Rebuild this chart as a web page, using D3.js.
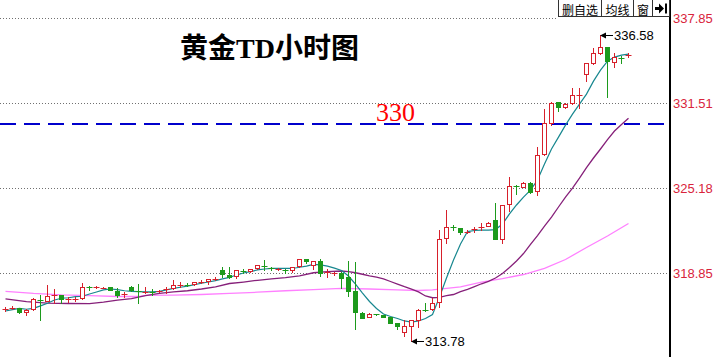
<!DOCTYPE html>
<html>
<head>
<meta charset="utf-8">
<script src="https://cdn.jsdelivr.net/npm/d3@7"></script>
<style>
  html, body { margin: 0; padding: 0; background: #fff; }
  svg { display: block; }
</style>
</head>
<body>
<svg id="chart" width="714" height="357"></svg>
<script>
// hourly candles, oldest first
const opens = [316.16,316.23,316.24,315.97,316.17,316.88,316.81,317.21,317.23,316.94,
  316.90,316.99,317.82,317.79,317.76,317.81,317.55,317.29,317.83,317.57,
  317.47,317.50,317.50,317.64,317.72,317.99,318.01,318.02,318.17,318.22,
  318.43,319.10,318.72,318.60,319.06,318.97,319.21,319.41,319.23,319.14,
  319.10,319.10,319.34,319.89,319.47,319.73,318.90,318.84,318.89,318.54,
  317.53,315.92,315.62,315.80,315.75,315.62,315.13,314.48,314.96,315.37,
  316.10,316.14,316.66,321.44,322.34,322.20,321.94,322.15,322.30,322.37,
  322.82,321.44,323.99,325.37,325.30,325.60,325.00,327.71,330.06,331.61,
  331.26,331.51,332.11,333.69,334.49,335.23,335.68,334.61,334.87,335.09];
const highs = [316.36,316.42,316.30,316.16,316.99,317.23,317.98,317.66,317.27,317.11,
  317.09,318.11,317.90,317.87,317.83,317.83,317.73,317.48,317.90,318.05,
  317.81,317.66,317.61,317.81,318.35,318.18,318.11,318.20,318.35,318.43,
  318.60,319.30,319.30,319.10,319.15,319.17,319.47,319.84,319.30,319.21,
  319.15,319.32,319.92,319.92,319.80,319.89,319.15,318.95,318.91,319.77,
  319.69,315.93,315.86,315.84,315.77,315.63,315.15,315.34,315.39,316.16,
  316.62,317.01,322.07,323.53,322.45,322.22,322.04,322.32,322.62,322.69,
  324.11,323.97,326.00,325.42,325.63,325.67,328.28,331.06,331.58,331.63,
  331.53,332.63,332.63,334.51,335.60,336.58,335.70,335.23,335.03,335.23];
const lows = [316.04,316.16,315.89,315.75,316.13,315.37,316.79,316.62,316.66,316.74,
  316.79,316.91,317.61,317.73,317.72,317.57,317.11,317.11,317.55,316.66,
  317.41,317.23,317.42,317.36,317.66,317.85,317.93,317.98,318.11,318.03,
  318.35,318.57,318.50,318.48,318.89,318.95,319.15,319.10,319.13,319.10,
  318.89,318.97,319.32,319.60,319.15,318.63,318.61,318.76,317.78,317.16,
  314.67,315.52,315.60,315.75,315.60,315.11,314.67,314.18,313.78,314.85,
  316.01,316.12,316.36,321.13,322.04,321.81,321.89,321.95,322.07,322.34,
  321.37,321.13,323.47,324.75,325.28,324.81,324.68,327.66,329.89,330.96,
  331.16,331.48,331.14,333.19,334.46,335.20,332.00,334.23,334.49,334.98];
const closes = [316.19,316.25,315.93,316.12,316.91,316.82,317.16,317.23,316.91,316.96,
  316.92,317.81,317.79,317.82,317.78,317.61,317.26,317.32,317.61,317.54,
  317.49,317.47,317.52,317.67,317.98,318.01,317.99,318.19,318.19,318.40,
  318.45,318.78,318.60,319.07,319.02,319.15,319.45,319.34,319.21,319.16,
  319.08,319.30,319.89,319.71,319.79,318.85,318.92,318.86,318.54,317.47,
  315.93,315.56,315.82,315.78,315.62,315.15,314.94,314.93,315.37,316.12,
  316.07,316.62,321.38,322.28,322.30,321.90,321.96,322.17,322.32,322.57,
  321.44,323.94,325.35,325.34,325.60,324.93,327.66,330.02,331.55,331.21,
  331.46,332.13,332.13,334.49,335.23,335.68,334.61,334.96,334.84,335.11];

// moving average lines
const ma5 = [316.04,316.14,316.24,316.17,316.24,316.42,316.62,316.86,316.99,317.03,
  317.11,317.14,317.31,317.46,317.61,317.68,317.63,317.55,317.51,317.48,
  317.46,317.46,317.51,317.61,317.73,317.81,317.90,318.00,318.11,318.20,
  318.30,318.43,318.55,318.72,318.87,318.98,319.10,319.17,319.21,319.22,
  319.21,319.21,319.30,319.39,319.51,319.48,319.39,319.24,319.06,318.65,
  318.05,317.38,316.75,316.23,315.82,315.63,315.48,315.30,315.22,315.30,
  315.48,315.78,317.09,318.50,319.84,321.03,321.96,322.04,322.07,322.07,
  322.11,322.52,323.27,323.94,324.53,325.05,325.80,326.99,328.11,329.00,
  329.89,330.71,331.46,332.20,333.17,333.99,334.66,334.96,335.11,335.18];
const ma20Idx = [0,3,6,9,12,14,16,18,20,22,24,26,28,30,32,34,36,38,40,42,44,46,48,
  49,50,51,52,53,54,55,56,57,58,59,60,61,62,63,64,65,66,67,68,69,70,71,72,73,74,
  75,76,77,78,79,80,81,82,83,84,85,86,87,88,89];
const ma20 = [316.94,316.74,316.63,316.60,316.59,316.70,316.85,316.97,317.18,317.35,
  317.46,317.55,317.68,317.84,318.09,318.20,318.33,318.44,318.53,318.66,318.89,318.98,319.02,
  318.98,318.89,318.78,318.66,318.56,318.43,318.24,318.05,317.85,317.67,317.46,317.16,
  317.03,317.05,317.18,317.27,317.48,317.66,317.86,318.07,318.25,318.50,318.84,319.28,
  319.77,320.32,321.00,321.66,322.37,323.04,323.79,324.53,325.20,325.95,326.73,327.44,
  328.11,328.81,329.45,329.93,330.41];
const ma60Idx = [0,4,8,12,16,19,20,24,28,32,36,40,44,48,52,56,59,61,63,65,68,71,74,77,80,83,86,89];
const ma60 = [317.51,317.35,317.24,317.18,317.12,317.12,317.20,317.23,317.27,317.35,
  317.44,317.55,317.64,317.72,317.68,317.61,317.57,317.61,317.72,317.84,318.20,318.46,
  318.76,319.21,319.88,320.77,321.63,322.56];

const yTicks = [318.85, 325.18, 331.51, 337.85];
const refLevel = 330;
const buttons = ['删自选', '均线', '窗'];
const title = '黄金TD小时图';

const red = '#d7202b',
    green = '#1c9a1c',
    gridColor = '#707070';

const plotRight = 670;
const svg = d3.select('#chart');

const x = d3.scaleBand().domain(d3.range(95)).range([1.8, 666.8]);
const cx = i => Math.round(x(i) + x.bandwidth() / 2) + 0.5;
const y = d3.scaleLinear().domain([318.85, 337.85]).range([273.3, 18.3]);
const crisp = v => Math.round(v) + 0.5;

// dotted grid
svg.append('g')
    .selectAll('line')
    .data(yTicks)
    .enter()
    .append('line')
    .attr('x1', 0)
    .attr('x2', (d, i) => i === yTicks.length - 1 ? 557 : 668)
    .attr('y1', d => crisp(y(d)))
    .attr('y2', d => crisp(y(d)))
    .attr('stroke', gridColor)
    .attr('stroke-dasharray', '1,2');

// 330 reference line
svg.append('line')
    .attr('x1', 0)
    .attr('x2', 668)
    .attr('y1', Math.round(y(refLevel)))
    .attr('y2', Math.round(y(refLevel)))
    .attr('stroke', '#0000cc')
    .attr('stroke-width', 2)
    .attr('stroke-dasharray', '16,8');

svg.append('text')
    .attr('x', 376)
    .attr('y', 121)
    .attr('fill', '#ff0000')
    .style('font-family', '"Liberation Serif", serif')
    .style('font-size', '26px')
    .text(refLevel);

// title
svg.append('text')
    .attr('x', 180)
    .attr('y', 58)
    .attr('fill', '#000')
    .style('font-family', '"Liberation Serif", "Noto Sans CJK SC", serif')
    .style('font-weight', 'bold')
    .style('font-size', '28px')
    .text(title);

// moving averages
const line = d3.line().x(d => cx(d[0])).y(d => y(d[1]));
const lineSets = [
    {pts: ma60Idx.map((d, i) => [d, ma60[i]]), color: '#ff80ff', w: 1.3},
    {pts: ma20Idx.map((d, i) => [d, ma20[i]]), color: '#86207a', w: 1.3},
    {pts: ma5.map((d, i) => [i, d]), color: '#17878f', w: 1.2}
];
svg.append('g')
    .selectAll('path')
    .data(lineSets)
    .enter()
    .append('path')
    .attr('d', d => line(d.pts))
    .attr('fill', 'none')
    .attr('stroke', d => d.color)
    .attr('stroke-width', d => d.w);

// candles
const candles = d3.range(opens.length).map(i => ({
    i: i, o: opens[i], h: highs[i], l: lows[i], c: closes[i]
}));
const isUp = d => d.c >= d.o;
const cg = svg.append('g');

cg.selectAll('.wick')
    .data(candles)
    .enter()
    .append('line')
    .attr('class', 'wick')
    .attr('x1', d => cx(d.i))
    .attr('x2', d => cx(d.i))
    .attr('y1', d => Math.round(y(d.h)))
    .attr('y2', d => Math.round(y(d.l)) + 1)
    .attr('stroke', d => isUp(d) ? red : green);

const flat = d => Math.abs(y(d.o) - y(d.c)) < 1.5;

cg.selectAll('.doji')
    .data(candles.filter(flat))
    .enter()
    .append('line')
    .attr('class', 'doji')
    .attr('x1', d => cx(d.i) - 3)
    .attr('x2', d => cx(d.i) + 3)
    .attr('y1', d => crisp((y(d.o) + y(d.c)) / 2))
    .attr('y2', d => crisp((y(d.o) + y(d.c)) / 2))
    .attr('stroke', d => isUp(d) ? red : green);

cg.selectAll('.body')
    .data(candles.filter(d => !flat(d)))
    .enter()
    .append('rect')
    .attr('class', 'body')
    .attr('x', d => isUp(d) ? cx(d.i) - 2 : cx(d.i) - 2.5)
    .attr('width', d => isUp(d) ? 4 : 5)
    .attr('y', d => {
        const t = Math.min(y(d.o), y(d.c));
        return isUp(d) ? crisp(t) : Math.round(t);
    })
    .attr('height', d => {
        const hgt = Math.round(Math.abs(y(d.o) - y(d.c)));
        return isUp(d) ? hgt : hgt + 1;
    })
    .attr('fill', d => isUp(d) ? '#fff' : green)
    .attr('stroke', d => isUp(d) ? red : 'none');

// high / low markers
const hiIdx = d3.maxIndex(highs), loIdx = d3.minIndex(lows);
const marks = [
    {i: hiIdx, v: highs[hiIdx]},
    {i: loIdx, v: lows[loIdx]}
];
const mg = svg.append('g')
    .selectAll('g')
    .data(marks)
    .enter()
    .append('g')
    .attr('transform', d => `translate(${cx(d.i) - 0.5},${Math.round(y(d.v)) + 0.5})`);
mg.append('line')
    .attr('x1', 4).attr('x2', 13)
    .attr('stroke', '#000');
mg.append('path')
    .attr('d', 'M0,0L6,-3L6,3Z')
    .attr('fill', '#000');
mg.append('text')
    .attr('x', 14)
    .attr('dy', '0.36em')
    .attr('fill', '#000')
    .style('font-family', '"Liberation Sans", Arial, sans-serif')
    .style('font-size', '13px')
    .text(d => d.v.toFixed(2));

// right price axis
const axis = d3.axisRight(y)
    .tickValues(yTicks)
    .tickSize(0)
    .tickPadding(3)
    .tickFormat(d3.format('.2f'));
const axisG = svg.append('g')
    .attr('transform', `translate(${plotRight},0)`)
    .call(axis);
axisG.select('.domain').remove();
axisG.selectAll('text')
    .attr('fill', '#d9243c')
    .style('font-family', '"Liberation Sans", Arial, sans-serif')
    .style('font-size', '13px');

svg.append('rect')
    .attr('x', plotRight - 1)
    .attr('y', 0)
    .attr('width', 2)
    .attr('height', 357)
    .attr('fill', '#000');

// toolbar buttons at top right
const btnEdges = [558, 601, 633, 652, plotRight];
const bg = svg.append('g');
bg.append('rect')
    .attr('x', 558.5).attr('y', -0.5)
    .attr('width', plotRight - 559).attr('height', 17)
    .attr('fill', '#fff')
    .attr('stroke', '#333');
bg.selectAll('.sep')
    .data(btnEdges.slice(1, 4))
    .enter()
    .append('line')
    .attr('class', 'sep')
    .attr('x1', d => d + 0.5).attr('x2', d => d + 0.5)
    .attr('y1', 0).attr('y2', 16)
    .attr('stroke', '#333');
bg.selectAll('.btn')
    .data(buttons)
    .enter()
    .append('text')
    .attr('class', 'btn')
    .attr('x', (d, i) => (btnEdges[i] + btnEdges[i + 1]) / 2 + 0.5)
    .attr('y', 14.5)
    .attr('text-anchor', 'middle')
    .attr('fill', '#000')
    .style('font-family', '"Noto Sans CJK SC", sans-serif')
    .style('font-size', '12px')
    .text(d => d);
bg.append('path')
    .attr('d', 'M655,7H659V3.5L664,8.5L659,13.5V10H655Z M665,3.5H667V13.5H665Z')
    .attr('fill', '#000');
</script>
</body>
</html>
